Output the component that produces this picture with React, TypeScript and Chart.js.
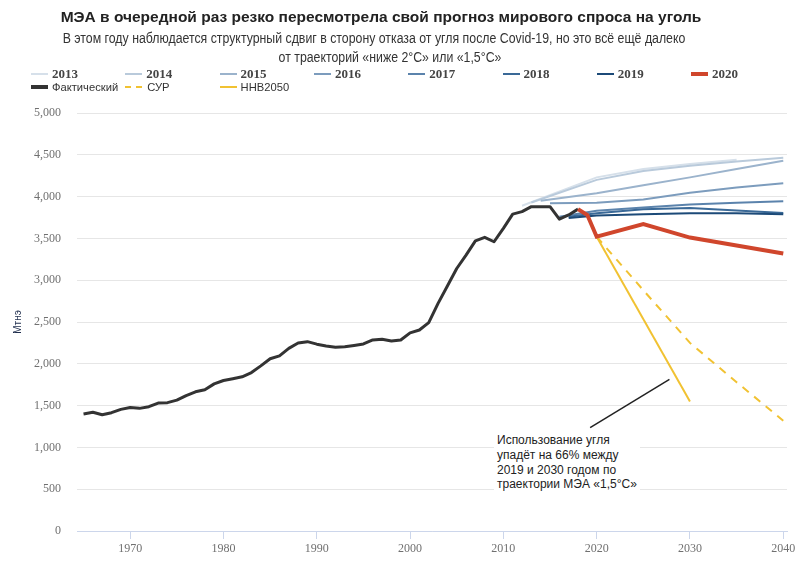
import { useEffect, useRef } from "react";
import Chart from "chart.js/auto";

// Факт, Мтнэ
const ACTUAL_YEARS = [
  1965, 1966, 1967, 1968, 1969, 1970, 1971, 1972, 1973, 1974, 1975, 1976, 1977, 1978,
  1979, 1980, 1981, 1982, 1983, 1984, 1985, 1986, 1987, 1988, 1989, 1990, 1991, 1992,
  1993, 1994, 1995, 1996, 1997, 1998, 1999, 2000, 2001, 2002, 2003, 2004, 2005, 2006,
  2007, 2008, 2009, 2010, 2011, 2012, 2013, 2014, 2015, 2016, 2017, 2018,
];
const ACTUAL = [
  1400, 1420, 1390, 1415, 1455, 1478, 1467, 1487, 1530, 1535, 1565, 1620, 1665, 1690,
  1760, 1800, 1822, 1845, 1895, 1975, 2060, 2095, 2185, 2248, 2265, 2235, 2213, 2197,
  2205, 2220, 2237, 2285, 2293, 2273, 2285, 2370, 2404, 2492, 2723, 2930, 3140, 3300,
  3470, 3513, 3460, 3620, 3790, 3820, 3880, 3880, 3880, 3730, 3780, 3850,
];

// прогнозы WEO разных лет
const WEO2013_YEARS = [2012, 2020, 2025, 2030, 2035];
const WEO2013 = [3890, 4230, 4330, 4390, 4440];
const WEO2014_YEARS = [2013, 2020, 2025, 2030, 2035, 2040];
const WEO2014 = [3930, 4200, 4305, 4370, 4420, 4465];
const WEO2015_YEARS = [2014, 2020, 2025, 2030, 2035, 2040];
const WEO2015 = [3950, 4040, 4135, 4230, 4330, 4430];
const WEO2016_YEARS = [2015, 2020, 2025, 2030, 2035, 2040];
const WEO2016 = [3920, 3925, 3965, 4045, 4110, 4160];
const WEO2017_YEARS = [2016, 2020, 2025, 2030, 2035, 2040];
const WEO2017 = [3760, 3830, 3870, 3905, 3925, 3945];
const WEO2018_YEARS = [2017, 2020, 2025, 2030, 2035, 2040];
const WEO2018 = [3760, 3800, 3850, 3865, 3835, 3805];
const WEO2019_YEARS = [2017, 2020, 2025, 2030, 2035, 2040];
const WEO2019 = [3745, 3775, 3790, 3800, 3800, 3790];
const WEO2020_YEARS = [2018, 2019, 2020, 2025, 2030, 2040];
const WEO2020 = [3850, 3780, 3520, 3670, 3510, 3320];

const SDS_YEARS = [2020, 2025, 2030, 2035, 2040];
const SDS = [3520, 2880, 2250, 1780, 1320];
const NZE_YEARS = [2020, 2030];
const NZE = [3520, 1550];

// стрелка-выноска
const NOTE_X = [2027.8, 2019.3];
const NOTE_Y = [1815, 1236];

const X_TICKS = [1970, 1980, 1990, 2000, 2010, 2020, 2030, 2040];

const TITLE = "МЭА в очередной раз резко пересмотрела свой прогноз мирового спроса на уголь";
const SUBTITLE_1 =
  "В этом году наблюдается структурный сдвиг в сторону отказа от угля после Covid-19, но это всё ещё далеко";
const SUBTITLE_2 = "от траекторий «ниже 2°С» или «1,5°С»";
const NOTE_LINES = [
  "Использование угля",
  "упадёт на 66% между",
  "2019 и 2030 годом по",
  "траектории МЭА «1,5°С»",
];

const BLUES = ["#d6e0ea", "#b9cadb", "#9bb3cc", "#7c9cbd", "#5b83ac", "#3a6997", "#1c4a78"];
const RED = "#d0462c";
const BLACK = "#333333";
const YELLOW = "#f1c232";

const pts = (xs: number[], ys: number[]) => xs.map((x, i) => ({ x, y: ys[i] }));

const YEAR_LEGEND = [
  { label: "2013", color: BLUES[0], w: 2 },
  { label: "2014", color: BLUES[1], w: 2 },
  { label: "2015", color: BLUES[2], w: 2 },
  { label: "2016", color: BLUES[3], w: 2 },
  { label: "2017", color: BLUES[4], w: 2 },
  { label: "2018", color: BLUES[5], w: 2 },
  { label: "2019", color: BLUES[6], w: 2 },
  { label: "2020", color: RED, w: 4 },
];
const OTHER_LEGEND = [
  { label: "Фактический", color: BLACK, w: 4, dash: false },
  { label: "СУР", color: YELLOW, w: 2, dash: true },
  { label: "ННВ2050", color: YELLOW, w: 2, dash: false },
];

export default function App() {
  const canvasRef = useRef<HTMLCanvasElement>(null);
  const chartRef = useRef<Chart | null>(null);

  useEffect(() => {
    if (!canvasRef.current) return;
    if (chartRef.current) chartRef.current.destroy();

    const blue = (label: string, xs: number[], ys: number[], i: number) => ({
      label,
      data: pts(xs, ys),
      borderColor: BLUES[i],
      borderWidth: 2,
      pointRadius: 0,
      tension: 0,
    });

    chartRef.current = new Chart(canvasRef.current, {
      type: "line",
      data: {
        datasets: [
          {
            label: "2020",
            data: pts(WEO2020_YEARS, WEO2020),
            borderColor: RED,
            borderWidth: 4,
            pointRadius: 0,
          },
          {
            label: "note",
            data: pts(NOTE_X, NOTE_Y),
            borderColor: "#222222",
            borderWidth: 1.5,
            pointRadius: 0,
          },
          {
            label: "ННВ2050",
            data: pts(NZE_YEARS, NZE),
            borderColor: YELLOW,
            borderWidth: 2,
            pointRadius: 0,
          },
          {
            label: "СУР",
            data: pts(SDS_YEARS, SDS),
            borderColor: YELLOW,
            borderWidth: 2,
            borderDash: [8, 7],
            pointRadius: 0,
          },
          {
            label: "Фактический",
            data: pts(ACTUAL_YEARS, ACTUAL),
            borderColor: BLACK,
            borderWidth: 3,
            pointRadius: 0,
            borderJoinStyle: "round" as const,
          },
          blue("2019", WEO2019_YEARS, WEO2019, 6),
          blue("2018", WEO2018_YEARS, WEO2018, 5),
          blue("2017", WEO2017_YEARS, WEO2017, 4),
          blue("2016", WEO2016_YEARS, WEO2016, 3),
          blue("2015", WEO2015_YEARS, WEO2015, 2),
          blue("2014", WEO2014_YEARS, WEO2014, 1),
          blue("2013", WEO2013_YEARS, WEO2013, 0),
        ],
      },
      options: {
        animation: false,
        responsive: false,
        maintainAspectRatio: false,
        layout: { padding: { top: 113, left: 0, right: 13, bottom: 0 } },
        plugins: {
          legend: { display: false },
          tooltip: { enabled: false },
        },
        scales: {
          x: {
            type: "linear",
            min: 1964.3,
            max: 2040.4,
            afterFit: (scale: any) => {
              scale.height = 34;
            },
            afterBuildTicks: (scale: any) => {
              scale.ticks = X_TICKS.map((v) => ({ value: v }));
            },
            grid: {
              drawOnChartArea: false,
              color: "#ccd6eb",
              tickLength: 8,
            },
            border: { color: "#ccd6eb", width: 1 },
            ticks: {
              color: "#707070",
              padding: 3,
              font: { family: "'Liberation Serif', 'DejaVu Serif', serif", size: 12 },
              callback: (v: any) => String(v),
              maxRotation: 0,
            },
          },
          y: {
            min: 0,
            max: 5000,
            afterFit: (scale: any) => {
              scale.width = 77;
            },
            grid: { color: "#e6e6e6", drawTicks: false },
            border: { display: false },
            ticks: {
              stepSize: 500,
              padding: 16,
              color: "#707070",
              font: { family: "'Liberation Serif', 'DejaVu Serif', serif", size: 12 },
              callback: (v: any) => Number(v).toLocaleString("en-US"),
            },
            title: {
              display: true,
              text: "Мтнэ",
              color: "#1f2d4d",
              padding: { top: 12, bottom: 0 },
              font: { family: "'Liberation Sans', Arial, sans-serif", size: 10 },
            },
          },
        },
      },
    });

    return () => {
      if (chartRef.current) {
        chartRef.current.destroy();
        chartRef.current = null;
      }
    };
  }, []);

  const sans = "'Liberation Sans', Arial, sans-serif";
  const serif = "'Liberation Serif', 'Times New Roman', serif";

  return (
    <div
      style={{
        position: "absolute",
        left: 0,
        top: 0,
        width: 800,
        height: 565,
        background: "#ffffff",
        fontFamily: sans,
        overflow: "hidden",
      }}
    >
      <canvas ref={canvasRef} width={800} height={565} style={{ position: "absolute", left: 0, top: 0 }} />

      <div
        style={{
          position: "absolute",
          left: 0,
          width: 762,
          top: 8,
          lineHeight: "18px",
          textAlign: "center",
          fontSize: 15.5,
          fontWeight: "bold",
          color: "#222222",
          whiteSpace: "nowrap",
        }}
      >
        {TITLE}
      </div>
      <div
        style={{
          position: "absolute",
          left: 0,
          width: 748,
          top: 29,
          lineHeight: "18px",
          textAlign: "center",
          fontSize: 14,
          color: "#333333",
          whiteSpace: "nowrap",
          transform: "scaleX(0.88)",
          transformOrigin: "374px 0",
        }}
      >
        {SUBTITLE_1}
      </div>
      <div
        style={{
          position: "absolute",
          left: 0,
          width: 780,
          top: 48,
          lineHeight: "18px",
          textAlign: "center",
          fontSize: 14,
          color: "#333333",
          whiteSpace: "nowrap",
          transform: "scaleX(0.88)",
          transformOrigin: "390px 0",
        }}
      >
        {SUBTITLE_2}
      </div>

      {YEAR_LEGEND.map((item, i) => (
        <div
          key={item.label}
          style={{
            position: "absolute",
            left: 31 + i * 94.3,
            top: 66,
            height: 16,
            display: "flex",
            alignItems: "center",
            whiteSpace: "nowrap",
          }}
        >
          <div style={{ width: 17, height: item.w, background: item.color, marginRight: 4 }} />
          <span style={{ fontFamily: serif, fontWeight: "bold", fontSize: 13, color: "#444444" }}>
            {item.label}
          </span>
        </div>
      ))}
      {OTHER_LEGEND.map((item, i) => (
        <div
          key={item.label}
          style={{
            position: "absolute",
            left: 31 + i * 94.3,
            top: 79,
            height: 16,
            display: "flex",
            alignItems: "center",
            whiteSpace: "nowrap",
          }}
        >
          <svg width={17} height={6} style={{ marginRight: item.dash ? 5 : 4 }}>
            <line
              x1={0}
              y1={3}
              x2={17}
              y2={3}
              stroke={item.color}
              strokeWidth={item.w}
              strokeDasharray={item.dash ? "6 5" : undefined}
            />
          </svg>
          <span style={{ fontFamily: sans, fontSize: 11.2, color: "#333333" }}>{item.label}</span>
        </div>
      ))}

      <div
        style={{
          position: "absolute",
          left: 494,
          top: 433,
          padding: "0 3px",
          background: "#ffffff",
          fontSize: 12,
          lineHeight: "14.8px",
          color: "#222222",
          whiteSpace: "nowrap",
        }}
      >
        {NOTE_LINES.map((l) => (
          <div key={l}>{l}</div>
        ))}
      </div>
    </div>
  );
}
